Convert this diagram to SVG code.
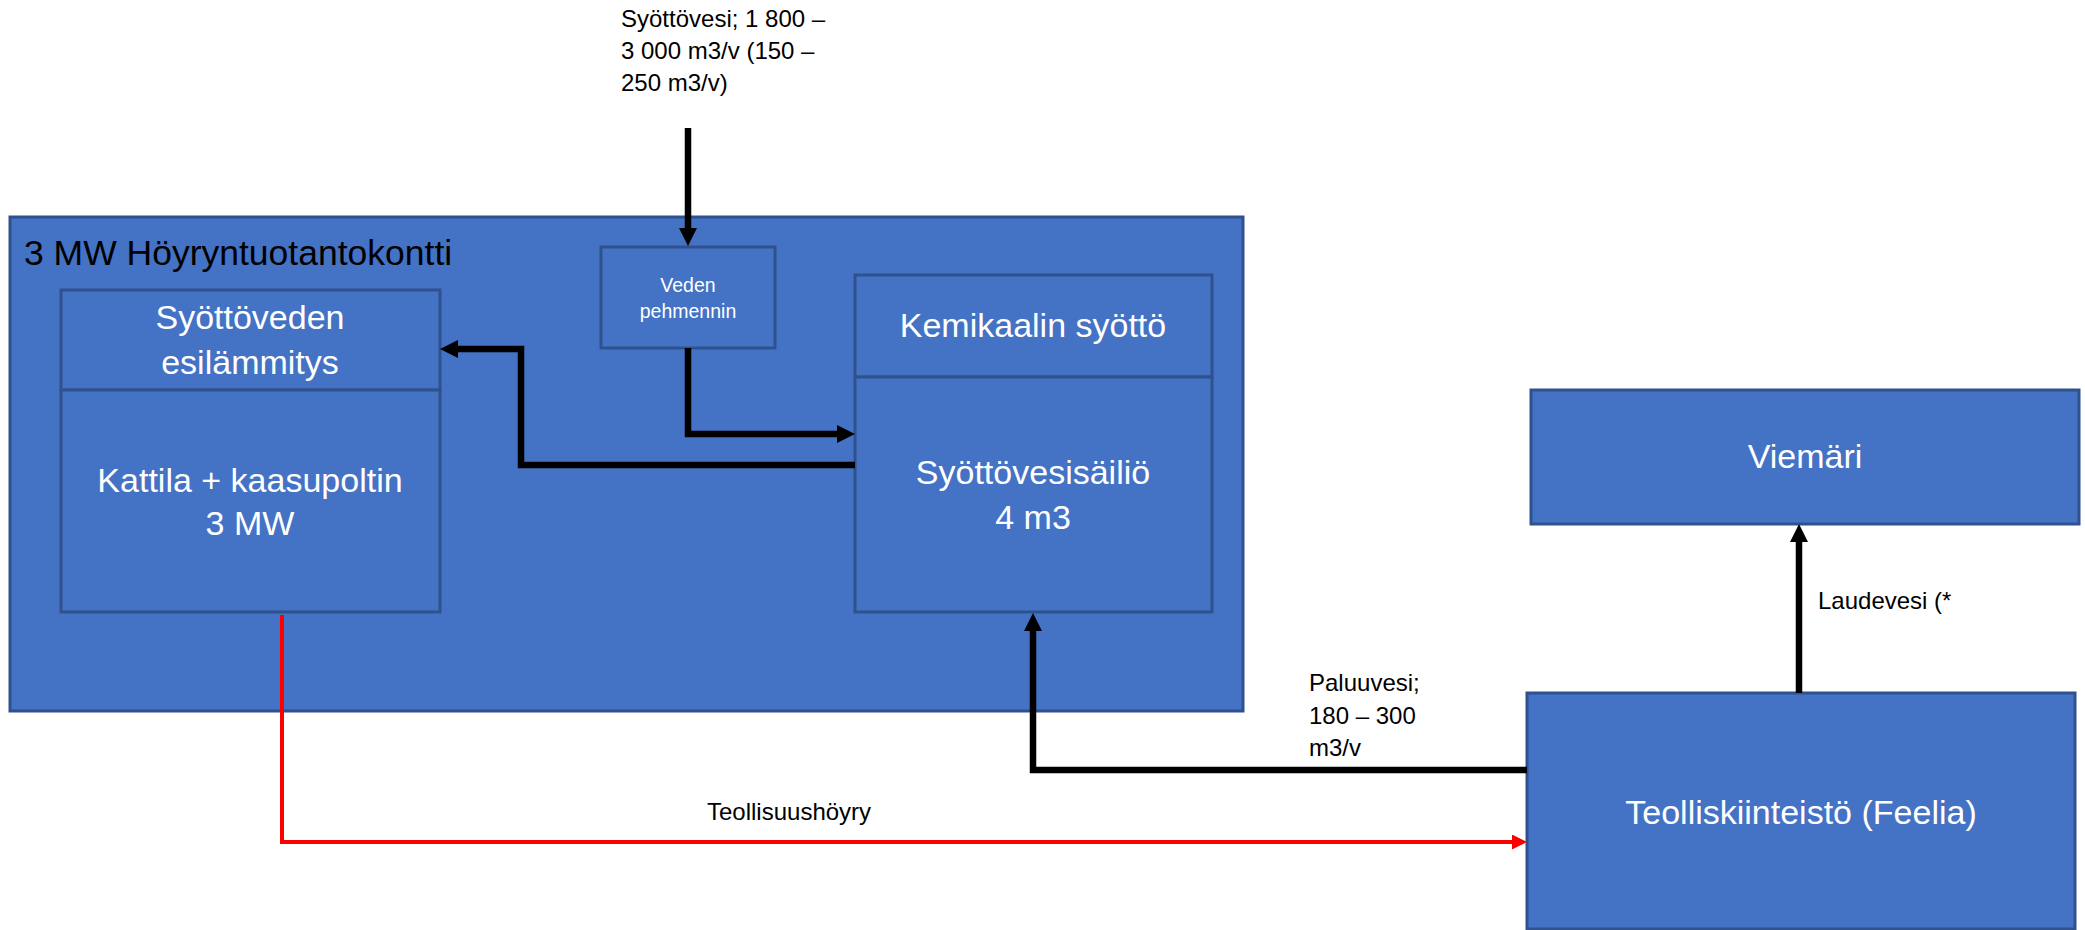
<svg xmlns="http://www.w3.org/2000/svg" width="2085" height="930" viewBox="0 0 2085 930">
<defs>
<style>
.box{fill:#4472C4;stroke:#2F528F;stroke-width:3}
.wt{fill:#FFFFFF;font-family:"Liberation Sans",Arial,sans-serif;font-size:34px;text-anchor:middle}
.bt{fill:#000000;font-family:"Liberation Sans",Arial,sans-serif;font-size:24px}
.flow{fill:none;stroke:#000000;stroke-width:6.5}
.steam{fill:none;stroke:#FF0000;stroke-width:4}
</style>
<marker id="ab" viewBox="0 0 18 18" markerUnits="userSpaceOnUse" markerWidth="18" markerHeight="18" refX="0" refY="9" orient="auto">
<path d="M0,0 L18,9 L0,18 Z" fill="#000000"/>
</marker>
<marker id="ar" viewBox="0 0 15 15" markerUnits="userSpaceOnUse" markerWidth="15" markerHeight="15" refX="0" refY="7.5" orient="auto">
<path d="M0,0 L15,7.5 L0,15 Z" fill="#FF0000"/>
</marker>
</defs>

<g id="container">
<rect class="box" x="10" y="217" width="1233" height="494"/>
<text x="24" y="265" style="fill:#000;font-family:'Liberation Sans',Arial,sans-serif;font-size:35.5px">3 MW Höyryntuotantokontti</text>
</g>

<g id="esilammitys">
<rect class="box" x="61" y="290" width="379" height="100"/>
<text class="wt" x="250" y="329">Syöttöveden</text>
<text class="wt" x="250" y="374">esilämmitys</text>
</g>

<g id="kattila">
<rect class="box" x="61" y="390" width="379" height="222"/>
<text class="wt" x="250" y="492">Kattila + kaasupoltin</text>
<text class="wt" x="250" y="535">3 MW</text>
</g>

<g id="pehmennin">
<rect class="box" x="601" y="247" width="174" height="101"/>
<text class="wt" x="688" y="292" style="font-size:19.5px">Veden</text>
<text class="wt" x="688" y="318" style="font-size:19.5px">pehmennin</text>
</g>

<g id="kemikaali">
<rect class="box" x="855" y="275" width="357" height="102"/>
<text class="wt" x="1033" y="337">Kemikaalin syöttö</text>
</g>

<g id="sailio">
<rect class="box" x="855" y="377" width="357" height="235"/>
<text class="wt" x="1033" y="484">Syöttövesisäiliö</text>
<text class="wt" x="1033" y="529">4 m3</text>
</g>

<g id="viemari">
<rect class="box" x="1531" y="390" width="548" height="134"/>
<text class="wt" x="1805" y="468">Viemäri</text>
</g>

<g id="teolliskiinteisto">
<rect class="box" x="1527" y="693" width="548" height="236"/>
<text class="wt" x="1801" y="824">Teolliskiinteistö (Feelia)</text>
</g>

<g id="connectors">
<path class="flow" d="M688,128 V228" marker-end="url(#ab)"/>
<path class="flow" d="M688,348 V434 H837" marker-end="url(#ab)"/>
<path class="flow" d="M855,465 H521 V349 H458" marker-end="url(#ab)"/>
<path class="flow" d="M1527,770 H1033 V631" marker-end="url(#ab)"/>
<path class="flow" d="M1799,693 V542" marker-end="url(#ab)"/>
<path class="steam" d="M282,615 V842 H1512" marker-end="url(#ar)"/>
</g>

<g id="labels">
<text class="bt" x="621" y="27">Syöttövesi; 1 800 –</text>
<text class="bt" x="621" y="59">3 000 m3/v (150 –</text>
<text class="bt" x="621" y="91">250 m3/v)</text>
<text class="bt" x="1309" y="691">Paluuvesi;</text>
<text class="bt" x="1309" y="724">180 – 300</text>
<text class="bt" x="1309" y="756">m3/v</text>
<text class="bt" x="707" y="820">Teollisuushöyry</text>
<text class="bt" x="1818" y="609">Laudevesi (*</text>
</g>
</svg>
